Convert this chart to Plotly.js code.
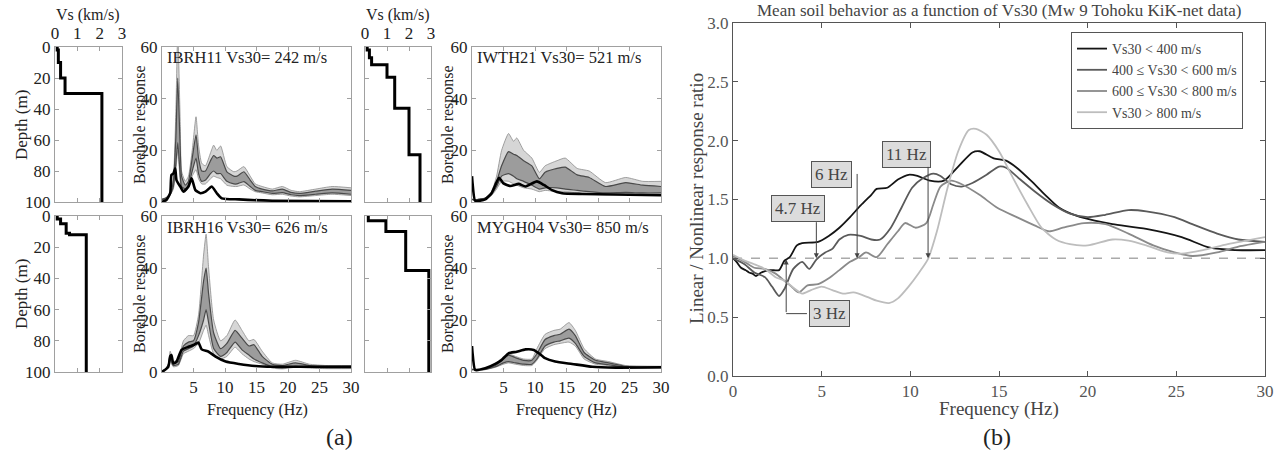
<!DOCTYPE html>
<html><head><meta charset="utf-8">
<script src="https://cdn.plot.ly/plotly-3.0.1.min.js"></script>
<style>html,body{margin:0;padding:0;background:#fff}#chart{width:1284px;height:459px}</style>
</head><body><div id="chart"></div>
<script>
// ---------------- Panel (a): Vs profiles ----------------
const ibrh11LayerTop = [0, 2, 10, 20, 30];
const ibrh11Vs       = [0.1, 0.15, 0.25, 0.45, 2.1];
const iwth21LayerTop = [0, 2, 7, 11.5, 19.5, 39.5, 69.5];
const iwth21Vs       = [0.1, 0.2, 0.3, 1.0, 1.35, 2.0, 2.5];
const ibrh16LayerTop = [0, 2, 5, 11, 12];
const ibrh16Vs       = [0.1, 0.25, 0.5, 0.65, 1.4];
const mygh04LayerTop = [0, 3, 10, 35];
const mygh04Vs       = [0.15, 0.95, 1.85, 2.9];

// ---------------- Panel (a): borehole responses ----------------
const ibrh11Freq   = [0,0.5,1.0,1.3,1.8,2.2,2.5,2.9,3.1,3.7,4.2,4.8,5.4,5.8,6.3,6.9,7.7,8.2,8.7,9.3,10.3,11.4,11.9,13.0,14.0,14.8,15.9,17.5,19.1,20.5,21.8,24.4,27.0,30];
const ibrh11OutUp  = [1,1.5,2.5,3.5,9,35,66,30,12,8,10,20,33,22,15,14,19,22,20,21.7,13.7,11.7,12,13.7,10,7,6,5,6,4.5,4,5,6,5.5];
const ibrh11InUp   = [1,1.4,2.3,3.2,8,25,48,20,10,6.5,8,17,26,17,12,12,16,18,17,17.5,11.7,10,10,11.7,8.5,6,5,4.3,5,3.7,3.3,4.2,5,4.5];
const ibrh11InLow  = [1,1.2,2,3,6,15,23,10,6,5,6.5,12,17,11,8,8.5,11,12,11,11,8,7,7,7.9,6,4.5,4,3.3,3.6,2.8,2.5,3,3.5,3];
const ibrh11OutLow = [0.8,1.1,1.8,2.7,5,12,20,8,5,4,5.5,10,12.5,9,7,7,9,10,9.5,9,6.5,6,6,6.6,5,4,3.5,2.8,3,2.3,2,2.5,3,2.5];
const ibrh11LinFreq = [0,0.7,1.3,1.5,1.8,2.1,2.3,2.9,3.4,4.2,4.7,5.3,6.1,6.9,7.9,8.7,9.5,12.2,17.5,30];
const ibrh11Lin     = [0,0.8,3.4,10.5,11,13,8.5,6,4,6,9.2,4.6,3.4,4,6,3.4,1.4,1.0,0.5,0.3];

const ibrh16Freq   = [0,0.5,1.0,1.3,1.8,2.6,3.4,4.2,5.0,5.8,6.6,7.0,7.4,8.2,9.3,10.3,11.6,12.7,13.8,14.6,15.9,17.5,19.1,21.2,23.4,26,30];
const ibrh16OutUp  = [0.5,1,3,8,4,5,12,14,14,22,45,53,40,20,12,14,20,16,12,12.5,8,3.5,3,4.5,3,2.5,2.5];
const ibrh16InUp   = [0.5,1,2.8,6.5,3.5,4,10,11.5,12,19,35,40,30,15,9,11,16,13,10,10.5,6,3,2.5,3.5,2.5,2.2,2.2];
const ibrh16InLow  = [0.4,0.9,2.5,5,2.5,3,8,9,10,14,20,24,19,9,6,7.5,11.5,8.5,6.5,5,3.5,2,1.5,2.2,1.8,1.6,1.6];
const ibrh16OutLow = [0.3,0.8,2.2,4,2,2.5,7,8,9,11,16,18,14,7,5,6,9.5,7,5,4,3,1.5,1.2,1.8,1.5,1.3,1.3];
const ibrh16LinFreq = [0,1.0,1.3,1.5,1.8,2.3,3.1,4.2,5.0,5.5,5.8,6.3,7.4,8.5,10.1,12.2,14.8,17.5,20.2,30];
const ibrh16Lin     = [0,2,6,6.5,3.3,4,8.5,9.7,10.4,11,11.3,8.7,7.8,5.9,4,3.1,2.3,2,2,2];

const iwth21Freq   = [0,0.3,1,2.1,3.1,3.9,4.7,5.8,6.6,7.1,8.2,9.5,10.7,11.6,13.5,14.8,16.7,18.6,21.2,24.4,27.1,30];
const iwth21OutUp  = [1,0.8,1,1.5,4,10,20,26.5,23.5,24.8,20,17,11.5,14,16,17,13,12,7.5,9.5,8,8];
const iwth21InUp   = [1,0.8,1,1.5,3.5,8,14,19.5,18.5,18,16,14,9,11.5,13,13.5,10.5,9.5,6,7.5,6.5,6];
const iwth21InLow  = [1,0.8,1,1.4,3,6,10,11,10,9,8,6.5,5,5.5,5.5,5,4.5,4,3.5,3.7,3.5,3.5];
const iwth21OutLow = [1,0.7,0.9,1.3,2.5,5,8,8,7,6.5,5.5,5,4,4.5,4,4,3.5,3,2.8,3,3,3];
const iwth21LinFreq = [0,0.1,0.5,2.1,3.1,3.7,4.3,5.0,6.1,7.4,8.5,10.3,11.4,12.7,14.3,17.5,30];
const iwth21Lin     = [10,7,0.5,1,3.4,6.6,9.4,7.2,6.2,7,6,8,6.6,4.6,3.4,3.1,2.6];

const mygh04Freq   = [0,1,2.1,3.7,5.0,5.8,6.9,8.2,9.5,10.3,11.6,13.0,14.0,15.4,16.4,17.8,19.6,21.7,24.4,30];
const mygh04OutUp  = [1,1,1.2,3,6,7,6,5,5,9,14.5,16,16.5,19,16,9,5,4,2.5,2.2];
const mygh04InUp   = [1,1,1.1,2.5,5,6.5,5.5,4.5,4.5,7,12.5,14,14.5,16.5,14,7.5,4.5,3.5,2.2,2];
const mygh04InLow  = [0.9,0.9,1,2,3.5,4,3.5,3,3,5,10,11.5,12,13,11,6,3.5,2.8,1.8,1.7];
const mygh04OutLow = [0.8,0.8,0.9,1.8,3,3.5,3,2.5,2.5,4.5,9,10.5,11,11.5,10,5,3,2.5,1.5,1.5];
const mygh04LinFreq = [0,0.1,0.5,2.1,3.7,4.7,5.8,7.1,8.5,9.8,10.6,11.6,13.2,15.9,19.1,22.8,30];
const mygh04Lin     = [10,7,0.8,1.4,3.1,4.6,7.2,7.8,8.7,8.5,7.2,5.3,4,3.1,2,1.7,1.8];

const stationLabels = ['IBRH11 Vs30= 242 m/s', 'IBRH16 Vs30= 626 m/s', 'IWTH21 Vs30= 521 m/s', 'MYGH04 Vs30= 850 m/s'];

// ---------------- Panel (b): mean ratio ----------------
const seriesNames = ['Vs30 &lt; 400 m/s', '400 ≤ Vs30 &lt; 600 m/s', '600 ≤ Vs30 &lt; 800 m/s', 'Vs30 &gt; 800 m/s'];
const freqLt400 = [0,0.2,0.45,0.7,0.9,1.1,1.3,1.6,2.1,2.6,2.9,3.2,3.6,3.9,4.8,5.4,6.0,6.6,7.2,7.8,8.1,8.7,9.3,9.9,10.4,11.1,11.9,12.7,13.5,13.9,14.7,15.4,16.0,16.8,17.6,18.4,19.4,20.4,21.4,23.3,25.3,26.9,28.3,30];
const ratioLt400 = [1.0,0.97,0.92,0.9,0.88,0.87,0.85,0.88,0.90,0.90,0.98,1.01,1.11,1.13,1.14,1.19,1.26,1.35,1.45,1.54,1.59,1.60,1.67,1.71,1.70,1.66,1.66,1.78,1.90,1.91,1.85,1.83,1.77,1.66,1.54,1.43,1.36,1.32,1.29,1.25,1.18,1.09,1.07,1.07];
const freq400to600 = [0,0.65,1.2,1.8,2.2,2.6,2.9,3.4,3.9,4.3,4.7,5.2,5.6,6.0,6.5,7.2,7.8,8.3,8.9,9.5,10.1,10.7,11.3,11.7,12.3,12.9,13.5,14.3,15.0,15.4,16.2,17.0,18.0,19.0,20.0,21.0,22.3,23.3,24.9,25.9,27.3,28.5,30];
const ratio400to600 = [1.0,0.95,0.88,0.84,0.76,0.68,0.74,0.91,0.97,0.91,0.99,1.05,1.08,1.16,1.20,1.19,1.16,1.16,1.26,1.43,1.60,1.68,1.72,1.70,1.63,1.61,1.64,1.71,1.78,1.77,1.67,1.57,1.46,1.38,1.35,1.37,1.41,1.40,1.35,1.29,1.21,1.16,1.14];
const freq600to800 = [0,0.65,1.2,1.8,2.4,2.9,3.3,3.7,4.2,4.8,5.4,6.0,6.6,7.1,7.5,8.1,8.7,9.3,9.7,10.3,10.9,11.3,11.7,12.3,12.9,13.9,14.9,16.0,17.0,17.8,18.6,19.8,21.0,22.3,23.7,24.9,25.9,27.3,28.5,30];
const ratio600to800 = [1.02,0.97,0.92,0.91,0.87,0.81,0.76,0.71,0.77,0.78,0.83,0.90,0.97,1.01,1.05,1.01,1.12,1.23,1.30,1.26,1.30,1.46,1.61,1.66,1.63,1.54,1.43,1.35,1.28,1.23,1.26,1.30,1.29,1.21,1.11,1.05,1.02,1.05,1.10,1.14];
const freqGt800 = [0,0.65,1.2,1.8,2.4,2.9,3.5,3.9,4.4,5.0,5.6,6.2,6.8,7.6,8.1,8.8,9.3,9.9,10.5,11.0,11.5,12.1,12.7,13.3,13.7,14.3,15.0,15.8,16.6,17.4,18.2,19.0,20.0,21.4,22.3,23.3,24.5,25.3,26.5,27.9,30];
const ratioGt800 = [1.03,0.98,0.95,0.91,0.84,0.81,0.74,0.70,0.73,0.76,0.73,0.70,0.71,0.67,0.64,0.62,0.66,0.76,0.88,0.995,1.23,1.60,1.91,2.09,2.10,2.05,1.91,1.68,1.46,1.26,1.16,1.12,1.11,1.16,1.15,1.11,1.05,1.04,1.07,1.12,1.18];

const markerTexts = ['3 Hz', '4.7 Hz', '6 Hz', '11 Hz'];
const markerFreqs = [3.0, 4.7, 7.0, 11.0];

// ---------------- geometry helpers ----------------
const W = 1284, H = 459;
const dx = (a, b) => [a / W, b / W];
const dy = (top, bot) => [1 - bot / H, 1 - top / H];
const SERIF = 'Liberation Serif, Times New Roman, serif';
const tfA = {family: SERIF, size: 17, color: '#222'};

function steps(tops, vs) {
  const x = [], y = [];
  for (let i = 0; i < vs.length; i++) {
    const bot = i + 1 < tops.length ? tops[i + 1] : 100;
    x.push(vs[i], vs[i]); y.push(tops[i], bot);
  }
  return {x, y};
}

const traces = [];
function profile(tops, vs, ax) {
  const s = steps(tops, vs);
  traces.push({type: 'scatter', mode: 'lines', x: s.x, y: s.y, xaxis: 'x' + ax, yaxis: 'y' + ax,
    line: {color: '#000', width: 3}, showlegend: false, hoverinfo: 'skip'});
}
function borehole(f, ou, iu, il, ol, lf, lin, ax) {
  const common = {type: 'scatter', mode: 'lines', x: f, xaxis: 'x' + ax, yaxis: 'y' + ax, showlegend: false, hoverinfo: 'skip'};
  const sp = {shape: 'spline', smoothing: 0.5};
  traces.push(Object.assign({}, common, {y: ol, line: Object.assign({color: '#8c8c8c', width: 0.8}, sp)}));
  traces.push(Object.assign({}, common, {y: ou, fill: 'tonexty', fillcolor: '#d6d6d6', line: Object.assign({color: '#8c8c8c', width: 0.8}, sp)}));
  traces.push(Object.assign({}, common, {y: il, line: Object.assign({color: '#4a4a4a', width: 1.2}, sp)}));
  traces.push(Object.assign({}, common, {y: iu, fill: 'tonexty', fillcolor: '#9c9c9c', line: Object.assign({color: '#4a4a4a', width: 1.2}, sp)}));
  traces.push({type: 'scatter', mode: 'lines', x: lf, y: lin, xaxis: 'x' + ax, yaxis: 'y' + ax, showlegend: false, hoverinfo: 'skip',
    line: {color: '#000', width: 2.6, shape: 'spline', smoothing: 0.5}});
}

profile(ibrh11LayerTop, ibrh11Vs, '');
borehole(ibrh11Freq, ibrh11OutUp, ibrh11InUp, ibrh11InLow, ibrh11OutLow, ibrh11LinFreq, ibrh11Lin, '2');
profile(ibrh16LayerTop, ibrh16Vs, '3');
borehole(ibrh16Freq, ibrh16OutUp, ibrh16InUp, ibrh16InLow, ibrh16OutLow, ibrh16LinFreq, ibrh16Lin, '4');
profile(iwth21LayerTop, iwth21Vs, '5');
borehole(iwth21Freq, iwth21OutUp, iwth21InUp, iwth21InLow, iwth21OutLow, iwth21LinFreq, iwth21Lin, '6');
profile(mygh04LayerTop, mygh04Vs, '7');
borehole(mygh04Freq, mygh04OutUp, mygh04InUp, mygh04InLow, mygh04OutLow, mygh04LinFreq, mygh04Lin, '8');

const bX = [freqLt400, freq400to600, freq600to800, freqGt800];
const bY = [ratioLt400, ratio400to600, ratio600to800, ratioGt800];
const bColors = ['#151515', '#5a5a5a', '#8a8a8a', '#bdbdbd'];
for (let i = 0; i < 4; i++) {
  traces.push({type: 'scatter', mode: 'lines', x: bX[i], y: bY[i], xaxis: 'x9', yaxis: 'y9', name: seriesNames[i],
    line: {color: bColors[i], width: 1.8, shape: 'spline', smoothing: 0.7}, hoverinfo: 'skip'});
}

// ---------------- axes ----------------
const baseAx = {showgrid: false, zeroline: false, showline: true, linecolor: '#a0a0a0', linewidth: 1,
  ticks: 'inside', ticklen: 4, tickcolor: '#a0a0a0', mirror: 'ticks', tickfont: tfA, fixedrange: true};
function vsX(domain, labels, anchor) {
  return Object.assign({}, baseAx, {domain, anchor, range: [0, 3], side: 'top', tickvals: [0, 1, 2, 3], showticklabels: labels});
}
function depthY(domain, labels, anchor) {
  return Object.assign({}, baseAx, {domain, anchor, range: [100, 0], tickvals: [0, 20, 40, 60, 80, 100], showticklabels: labels});
}
function bhX(domain, labels, anchor) {
  return Object.assign({}, baseAx, {domain, anchor, range: [0, 30], tickvals: [5, 10, 15, 20, 25, 30], showticklabels: labels});
}
function bhY(domain, anchor) {
  return Object.assign({}, baseAx, {domain, anchor, range: [0, 60], tickvals: [0, 20, 40, 60]});
}
const rowTop = dy(47, 202), rowBot = dy(216, 372);

const tfB = {family: SERIF, size: 17, color: '#555'};
const layout = {
  width: W, height: H, margin: {l: 0, r: 0, t: 0, b: 0}, paper_bgcolor: '#fff', plot_bgcolor: '#fff',
  showlegend: true,
  xaxis: vsX(dx(55, 122), true, 'y'), yaxis: depthY(rowTop, true, 'x'),
  xaxis2: bhX(dx(162, 351), false, 'y2'), yaxis2: bhY(rowTop, 'x2'),
  xaxis3: vsX(dx(55, 122), false, 'y3'), yaxis3: depthY(rowBot, true, 'x3'),
  xaxis4: bhX(dx(162, 351), true, 'y4'), yaxis4: bhY(rowBot, 'x4'),
  xaxis5: vsX(dx(365, 431), true, 'y5'), yaxis5: depthY(rowTop, false, 'x5'),
  xaxis6: bhX(dx(472, 661), false, 'y6'), yaxis6: bhY(rowTop, 'x6'),
  xaxis7: vsX(dx(365, 431), false, 'y7'), yaxis7: depthY(rowBot, false, 'x7'),
  xaxis8: bhX(dx(472, 661), true, 'y8'), yaxis8: bhY(rowBot, 'x8'),
  xaxis9: Object.assign({}, baseAx, {domain: dx(733, 1265), anchor: 'y9', range: [0, 30], tickvals: [0, 5, 10, 15, 20, 25, 30],
    linecolor: '#555', tickcolor: '#555', ticklen: 5, tickfont: tfB}),
  yaxis9: Object.assign({}, baseAx, {domain: dy(23, 376), anchor: 'x9', range: [0, 3], tickvals: [0, 0.5, 1, 1.5, 2, 2.5, 3],
    tickformat: '.1f', linecolor: '#555', tickcolor: '#555', ticklen: 5, tickfont: tfB}),
  legend: {x: 1071 / W, y: 1 - 32 / H, xanchor: 'left', yanchor: 'top', bordercolor: '#555', borderwidth: 1,
    bgcolor: '#fff', font: {family: SERIF, size: 14, color: '#444'}, itemwidth: 30, tracegroupgap: 0, traceorder: 'normal'},
  shapes: [
    {type: 'line', xref: 'x9', yref: 'y9', x0: 0, x1: 30, y0: 1, y1: 1, line: {color: '#aaa', width: 1.5, dash: 'dash'}, layer: 'below'},
    {type: 'line', xref: 'x9', yref: 'y9', x0: markerFreqs[0], x1: 4.17, y0: 0.53, y1: 0.53, line: {color: '#444', width: 1}}
  ],
  annotations: []
};

const A = layout.annotations;
function pText(text, x, y, size, opts) {
  A.push(Object.assign({text, xref: 'paper', yref: 'paper', x: x / W, y: 1 - y / H, xanchor: 'center', yanchor: 'middle',
    showarrow: false, font: {family: SERIF, size, color: '#222'}}, opts || {}));
}
pText('Vs (km/s)', 88, 15, 16);
pText('Vs (km/s)', 398, 15, 16);
pText('Depth (m)', 21, 125, 17, {textangle: -90});
pText('Depth (m)', 21, 294, 17, {textangle: -90});
pText('Borehole response', 140, 125, 16, {textangle: -90});
pText('Borehole response', 140, 294, 16, {textangle: -90});
pText('Borehole response', 448, 125, 16, {textangle: -90});
pText('Borehole response', 448, 294, 16, {textangle: -90});
pText('Frequency (Hz)', 257, 410, 16);
pText('Frequency (Hz)', 566, 410, 16);
pText('(a)', 340, 437, 24);
pText('(b)', 997, 437, 24);
pText(stationLabels[0], 165, 57, 16.5, {xanchor: 'left'});
pText(stationLabels[1], 165, 227, 16.5, {xanchor: 'left'});
pText(stationLabels[2], 475, 57, 16.5, {xanchor: 'left'});
pText(stationLabels[3], 475, 227, 16.5, {xanchor: 'left'});
pText('Mean soil behavior as a function of Vs30 (Mw 9 Tohoku KiK-net data)', 999, 11, 17, {font: {family: SERIF, size: 17, color: '#444'}});
pText('Linear / Nonlinear response ratio', 697, 199, 19, {textangle: -90, font: {family: SERIF, size: 19, color: '#444'}});
pText('Frequency (Hz)', 999, 409, 19, {font: {family: SERIF, size: 19, color: '#444'}});

// label boxes (position of box) and arrows
const boxPos = [[5.45, 0.53], [3.67, 1.42], [5.56, 1.71], [9.77, 1.885]];
const arrowTail = [0.53, 1.32, 1.73, 1.79];
const arrowTip = [0.99, 1.0, 1.0, 1.0];
for (let i = 0; i < 4; i++) {
  A.push({xref: 'x9', yref: 'y9', x: boxPos[i][0], y: boxPos[i][1], text: markerTexts[i], showarrow: false,
    bgcolor: '#dcdcdc', bordercolor: '#555', borderwidth: 1, borderpad: 3, font: {family: SERIF, size: 17, color: '#444'}});
  A.push({xref: 'x9', yref: 'y9', axref: 'x9', ayref: 'y9', x: markerFreqs[i], y: arrowTip[i], ax: markerFreqs[i], ay: arrowTail[i],
    text: '', showarrow: true, arrowhead: 2, arrowsize: 1, arrowwidth: 1, arrowcolor: '#444', standoff: 0});
}

Plotly.newPlot('chart', traces, layout, {displayModeBar: false, staticPlot: true});
</script>
</body></html>
